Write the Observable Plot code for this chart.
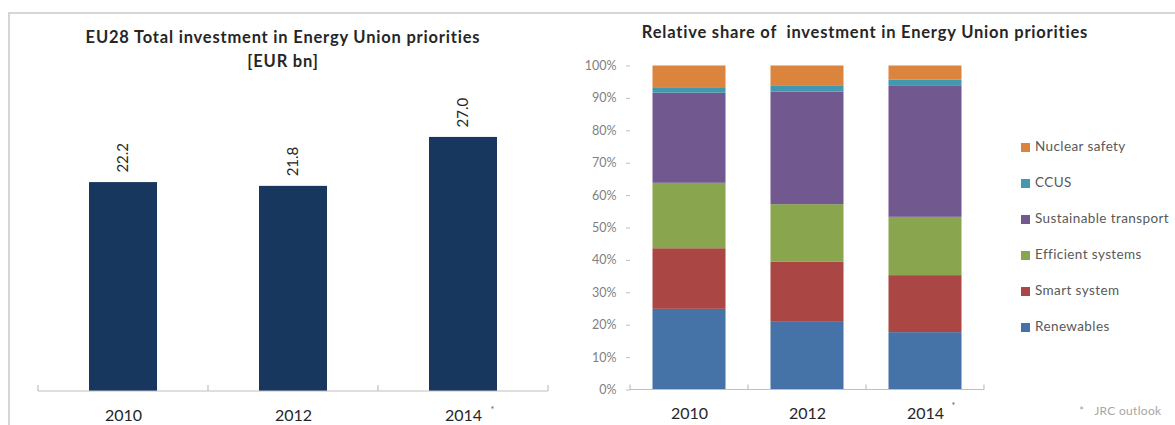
<!DOCTYPE html>
<html>
<head>
<meta charset="utf-8">
<script src="https://cdn.jsdelivr.net/npm/d3@7"></script>
<script src="https://cdn.jsdelivr.net/npm/@observablehq/plot@0.6"></script>
<style>
  html, body { margin: 0; padding: 0; background: #fff; }
  #root { position: relative; width: 1175px; height: 425px; overflow: hidden; font-family: Lato, "Open Sans", sans-serif; }
  .frame { position: absolute; left: 8px; top: 12px; width: 1175px; height: 420px; border-top: 2px solid #d6d6d6; border-left: 2px solid #d6d6d6; }
  .title { position: absolute; font-weight: bold; color: #262626; text-align: center; white-space: nowrap; letter-spacing: 0.8px; }
  .legend { position: absolute; left: 1021px; top: 138px; font-size: 13.5px; letter-spacing: 0.4px; color: #595959; }
  .legend .item { height: 36px; display: flex; align-items: flex-start; white-space: nowrap; }
  .legend .sw { width: 9px; height: 9px; margin-right: 5px; margin-top: 5px; flex: none; }
  .note { position: absolute; left: 1079px; top: 403px; font-size: 12px; letter-spacing: 0.3px; color: #a6a6a6; white-space: nowrap; }
  .panel { position: absolute; top: 0; }
</style>
</head>
<body>
<div id="root">
  <div class="frame"></div>
  <div class="title" id="t1" style="left:63px; top:25px; width:440px; font-size:16.5px; line-height:24px;">EU28 Total investment in Energy Union priorities<br>[EUR bn]</div>
  <div class="title" id="t2" style="left:615px; top:22px; width:500px; font-size:16.5px;">Relative share of&nbsp; investment in Energy Union priorities</div>
  <div class="panel" id="left" style="left:0px;"></div>
  <div class="panel" id="right" style="left:560px;"></div>
  <div class="legend" id="legend"></div>
  <div class="note">*&nbsp;&nbsp; JRC outlook</div>
</div>
<script>
// ---- data ----
const years = ["2010", "2012", "2014"];
const totalInvestment = [22.2, 21.8, 27.0]; // EUR bn
const estimatedYears = ["2014"]; // marked with * (JRC outlook)

const priorities = ["Renewables", "Smart system", "Efficient systems", "Sustainable transport", "CCUS", "Nuclear safety"];
const priorityColors = ["#4572a7", "#aa4643", "#89a54e", "#71588f", "#4198af", "#db843d"];
// shares in % per year, same order as priorities
const shares2010 = [24.9, 18.7, 20.2, 27.8, 1.7, 6.7];
const shares2012 = [21.1, 18.3, 17.8, 34.7, 1.8, 6.3];
const shares2014 = [17.7, 17.6, 18.0, 40.4, 2.0, 4.3];
const yTicks = [0, 10, 20, 30, 40, 50, 60, 70, 80, 90, 100];

const font = "Lato, 'Open Sans', sans-serif";
const axisGrey = "#bfbfbf";

// ---- left chart ----
const totals = years.map((y, i) => ({year: y, value: totalInvestment[i]}));
const left = Plot.plot({
  width: 560, height: 425,
  marginLeft: 38, marginRight: 12, marginTop: 108.7, marginBottom: 34,
  style: {fontFamily: font, background: "transparent", overflow: "visible"},
  x: {domain: years, padding: 0, axis: null, label: null},
  y: {domain: [0, 30], axis: null, label: null},
  marks: [
    Plot.barY(totals, {x: "year", y: "value", fill: "#17375e", insetLeft: 51, insetRight: 51}),
    Plot.text(totals, {x: "year", y: "value", text: d => d.value.toFixed(1), rotate: -90, textAnchor: "start", lineAnchor: "middle", dy: -10, fontSize: 15, fill: "#262626"}),
    Plot.axisX({tickSize: 0, tickPadding: 18, fontSize: 16, color: "#262626", label: null}),
    Plot.text(estimatedYears, {x: d => d, frameAnchor: "bottom", text: () => "*", dx: 29, dy: 21, fontSize: 9, fill: "#595959"})
  ]
});
document.getElementById("left").appendChild(left);

// ---- right chart ----
const shareRows = [];
[shares2010, shares2012, shares2014].forEach((arr, yi) => {
  arr.forEach((v, pi) => shareRows.push({year: years[yi], priority: priorities[pi], share: v}));
});
const right = Plot.plot({
  width: 615, height: 425,
  marginLeft: 70, marginRight: 191, marginTop: 65.5, marginBottom: 35.5,
  style: {fontFamily: font, background: "transparent", overflow: "visible"},
  x: {domain: years, padding: 0, axis: null, label: null},
  y: {domain: [0, 100], axis: null, label: null},
  color: {domain: priorities, range: priorityColors},
  marks: [
    Plot.barY(shareRows, Plot.stackY({order: priorities, x: "year", y: "share", fill: "priority", insetLeft: 22.5, insetRight: 22.5})),
    Plot.axisY({ticks: yTicks, tickFormat: d => d + "%", tickSize: 4, tickPadding: 10, fontSize: 12.5, color: "#7f7f7f", stroke: axisGrey, label: null}),
    Plot.ruleX([0], {y1: 0, y2: 100, frameAnchor: "left", stroke: axisGrey}),
    Plot.axisX({tickSize: 0, tickPadding: 18, fontSize: 16, color: "#262626", label: null}),
    Plot.text(estimatedYears, {x: d => d, frameAnchor: "bottom", text: () => "*", dx: 28, dy: 19, fontSize: 9, fill: "#595959"})
  ]
});
document.getElementById("right").appendChild(right);

// ---- baseline axes with boundary ticks, derived from the band scales ----
function addBandAxis(plot, tickUp, tickDown) {
  const xs = plot.scale("x"), ys = plot.scale("y");
  const y0 = ys.apply(0);
  const x0 = xs.range[0], x1 = xs.range[1];
  const svg = d3.select(plot);
  const g = svg.append("g").attr("stroke", axisGrey).attr("stroke-width", 1.2);
  g.append("line").attr("x1", x0).attr("x2", x1).attr("y1", y0).attr("y2", y0);
  const bounds = [];
  for (let i = 0; i <= xs.domain.length; i++) bounds.push(x0 + i * xs.step);
  bounds.forEach(b => g.append("line").attr("x1", b).attr("x2", b).attr("y1", y0 - tickUp).attr("y2", y0 + tickDown));
}
addBandAxis(left, 6, 0);
addBandAxis(right, 5, 0);

// ---- legend (top to bottom = reverse stack order) ----
const legend = document.getElementById("legend");
priorities.slice().reverse().forEach(p => {
  const item = document.createElement("div");
  item.className = "item";
  const sw = document.createElement("span");
  sw.className = "sw";
  sw.style.background = priorityColors[priorities.indexOf(p)];
  const lab = document.createElement("span");
  lab.textContent = p;
  item.appendChild(sw); item.appendChild(lab);
  legend.appendChild(item);
});
</script>
</body>
</html>
